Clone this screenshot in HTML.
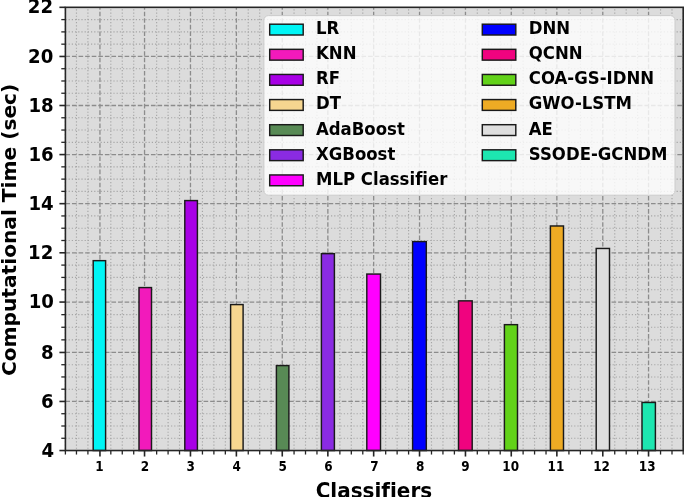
<!DOCTYPE html>
<html><head><meta charset="utf-8"><title>Computational Time by Classifier</title>
<style>
html,body{margin:0;padding:0;background:#fff;}
body{width:685px;height:497px;overflow:hidden;}
svg{display:block;filter:blur(0.35px);}
svg text{font-family:"DejaVu Sans","Liberation Sans",sans-serif;font-weight:bold;fill:#000;font-variant-ligatures:none;font-feature-settings:"liga" 0,"clig" 0;font-kerning:normal;}
</style></head>
<body>
<svg width="685" height="497" viewBox="0 0 685 497">
<rect width="685" height="497" fill="#fff"/>
<rect x="65.4" y="7.32" width="617.80" height="443.22" fill="#dcdcdc"/>
<g stroke="#a6a6a6" stroke-width="1.15" stroke-dasharray="1.2 2.0"><line x1="65.40" y1="450.54" x2="65.40" y2="7.32" stroke-dashoffset="1.5"/><line x1="76.46" y1="450.54" x2="76.46" y2="7.32" stroke-dashoffset="1.5"/><line x1="87.91" y1="450.54" x2="87.91" y2="7.32" stroke-dashoffset="1.5"/><line x1="110.82" y1="450.54" x2="110.82" y2="7.32" stroke-dashoffset="1.5"/><line x1="122.27" y1="450.54" x2="122.27" y2="7.32" stroke-dashoffset="1.5"/><line x1="133.72" y1="450.54" x2="133.72" y2="7.32" stroke-dashoffset="1.5"/><line x1="156.63" y1="450.54" x2="156.63" y2="7.32" stroke-dashoffset="1.5"/><line x1="168.08" y1="450.54" x2="168.08" y2="7.32" stroke-dashoffset="1.5"/><line x1="179.53" y1="450.54" x2="179.53" y2="7.32" stroke-dashoffset="1.5"/><line x1="202.44" y1="450.54" x2="202.44" y2="7.32" stroke-dashoffset="1.5"/><line x1="213.89" y1="450.54" x2="213.89" y2="7.32" stroke-dashoffset="1.5"/><line x1="225.34" y1="450.54" x2="225.34" y2="7.32" stroke-dashoffset="1.5"/><line x1="248.25" y1="450.54" x2="248.25" y2="7.32" stroke-dashoffset="1.5"/><line x1="259.70" y1="450.54" x2="259.70" y2="7.32" stroke-dashoffset="1.5"/><line x1="271.15" y1="450.54" x2="271.15" y2="7.32" stroke-dashoffset="1.5"/><line x1="294.06" y1="450.54" x2="294.06" y2="7.32" stroke-dashoffset="1.5"/><line x1="305.51" y1="450.54" x2="305.51" y2="7.32" stroke-dashoffset="1.5"/><line x1="316.96" y1="450.54" x2="316.96" y2="7.32" stroke-dashoffset="1.5"/><line x1="339.87" y1="450.54" x2="339.87" y2="7.32" stroke-dashoffset="1.5"/><line x1="351.32" y1="450.54" x2="351.32" y2="7.32" stroke-dashoffset="1.5"/><line x1="362.78" y1="450.54" x2="362.78" y2="7.32" stroke-dashoffset="1.5"/><line x1="385.68" y1="450.54" x2="385.68" y2="7.32" stroke-dashoffset="1.5"/><line x1="397.13" y1="450.54" x2="397.13" y2="7.32" stroke-dashoffset="1.5"/><line x1="408.59" y1="450.54" x2="408.59" y2="7.32" stroke-dashoffset="1.5"/><line x1="431.49" y1="450.54" x2="431.49" y2="7.32" stroke-dashoffset="1.5"/><line x1="442.94" y1="450.54" x2="442.94" y2="7.32" stroke-dashoffset="1.5"/><line x1="454.40" y1="450.54" x2="454.40" y2="7.32" stroke-dashoffset="1.5"/><line x1="477.30" y1="450.54" x2="477.30" y2="7.32" stroke-dashoffset="1.5"/><line x1="488.76" y1="450.54" x2="488.76" y2="7.32" stroke-dashoffset="1.5"/><line x1="500.21" y1="450.54" x2="500.21" y2="7.32" stroke-dashoffset="1.5"/><line x1="523.11" y1="450.54" x2="523.11" y2="7.32" stroke-dashoffset="1.5"/><line x1="534.57" y1="450.54" x2="534.57" y2="7.32" stroke-dashoffset="1.5"/><line x1="546.02" y1="450.54" x2="546.02" y2="7.32" stroke-dashoffset="1.5"/><line x1="568.92" y1="450.54" x2="568.92" y2="7.32" stroke-dashoffset="1.5"/><line x1="580.38" y1="450.54" x2="580.38" y2="7.32" stroke-dashoffset="1.5"/><line x1="591.83" y1="450.54" x2="591.83" y2="7.32" stroke-dashoffset="1.5"/><line x1="614.74" y1="450.54" x2="614.74" y2="7.32" stroke-dashoffset="1.5"/><line x1="626.19" y1="450.54" x2="626.19" y2="7.32" stroke-dashoffset="1.5"/><line x1="637.64" y1="450.54" x2="637.64" y2="7.32" stroke-dashoffset="1.5"/><line x1="660.55" y1="450.54" x2="660.55" y2="7.32" stroke-dashoffset="1.5"/><line x1="672.00" y1="450.54" x2="672.00" y2="7.32" stroke-dashoffset="1.5"/><line x1="683.20" y1="450.54" x2="683.20" y2="7.32" stroke-dashoffset="1.5"/><line x1="65.4" y1="438.27" x2="683.2" y2="438.27"/><line x1="65.4" y1="426.00" x2="683.2" y2="426.00"/><line x1="65.4" y1="413.72" x2="683.2" y2="413.72"/><line x1="65.4" y1="389.20" x2="683.2" y2="389.20"/><line x1="65.4" y1="376.95" x2="683.2" y2="376.95"/><line x1="65.4" y1="364.71" x2="683.2" y2="364.71"/><line x1="65.4" y1="339.86" x2="683.2" y2="339.86"/><line x1="65.4" y1="327.26" x2="683.2" y2="327.26"/><line x1="65.4" y1="314.66" x2="683.2" y2="314.66"/><line x1="65.4" y1="289.74" x2="683.2" y2="289.74"/><line x1="65.4" y1="277.42" x2="683.2" y2="277.42"/><line x1="65.4" y1="265.10" x2="683.2" y2="265.10"/><line x1="65.4" y1="240.50" x2="683.2" y2="240.50"/><line x1="65.4" y1="228.22" x2="683.2" y2="228.22"/><line x1="65.4" y1="215.94" x2="683.2" y2="215.94"/><line x1="65.4" y1="191.39" x2="683.2" y2="191.39"/><line x1="65.4" y1="179.12" x2="683.2" y2="179.12"/><line x1="65.4" y1="166.85" x2="683.2" y2="166.85"/><line x1="65.4" y1="142.31" x2="683.2" y2="142.31"/><line x1="65.4" y1="130.04" x2="683.2" y2="130.04"/><line x1="65.4" y1="117.77" x2="683.2" y2="117.77"/><line x1="65.4" y1="93.24" x2="683.2" y2="93.24"/><line x1="65.4" y1="80.98" x2="683.2" y2="80.98"/><line x1="65.4" y1="68.72" x2="683.2" y2="68.72"/><line x1="65.4" y1="44.17" x2="683.2" y2="44.17"/><line x1="65.4" y1="31.89" x2="683.2" y2="31.89"/><line x1="65.4" y1="19.60" x2="683.2" y2="19.60"/></g>
<g stroke="#8c8c8c" stroke-width="1.3" stroke-dasharray="4.6 1.98"><line x1="99.95" y1="450.54" x2="99.95" y2="7.32"/><line x1="144.54" y1="450.54" x2="144.54" y2="7.32"/><line x1="190.46" y1="450.54" x2="190.46" y2="7.32"/><line x1="236.38" y1="450.54" x2="236.38" y2="7.32"/><line x1="282.26" y1="450.54" x2="282.26" y2="7.32"/><line x1="327.86" y1="450.54" x2="327.86" y2="7.32"/><line x1="373.66" y1="450.54" x2="373.66" y2="7.32"/><line x1="419.54" y1="450.54" x2="419.54" y2="7.32"/><line x1="465.46" y1="450.54" x2="465.46" y2="7.32"/><line x1="511.26" y1="450.54" x2="511.26" y2="7.32"/><line x1="556.86" y1="450.54" x2="556.86" y2="7.32"/><line x1="602.78" y1="450.54" x2="602.78" y2="7.32"/><line x1="648.54" y1="450.54" x2="648.54" y2="7.32"/><line x1="65.4" y1="401.45" x2="683.2" y2="401.45"/><line x1="65.4" y1="352.46" x2="683.2" y2="352.46"/><line x1="65.4" y1="302.06" x2="683.2" y2="302.06"/><line x1="65.4" y1="252.78" x2="683.2" y2="252.78"/><line x1="65.4" y1="203.66" x2="683.2" y2="203.66"/><line x1="65.4" y1="154.58" x2="683.2" y2="154.58"/><line x1="65.4" y1="105.50" x2="683.2" y2="105.50"/><line x1="65.4" y1="56.46" x2="683.2" y2="56.46"/></g>
<g stroke="#1a1a1a" stroke-width="1.45"><rect x="93.2" y="260.66" width="12.40" height="189.88" fill="#00f5f5"/><rect x="139.0" y="287.58" width="12.50" height="162.96" fill="#f21abb"/><rect x="184.8" y="200.58" width="12.60" height="249.96" fill="#a800e6"/><rect x="230.6" y="304.58" width="12.50" height="145.96" fill="#f6d690"/><rect x="276.4" y="365.58" width="12.50" height="84.96" fill="#588a55"/><rect x="321.4" y="253.66" width="13.00" height="196.88" fill="#8a2be2"/><rect x="366.8" y="274.06" width="13.70" height="176.48" fill="#ff00ff"/><rect x="412.6" y="241.58" width="13.70" height="208.96" fill="#0000ff"/><rect x="458.5" y="300.86" width="13.70" height="149.68" fill="#f0037f"/><rect x="504.4" y="324.66" width="13.10" height="125.88" fill="#62d219"/><rect x="550.4" y="225.98" width="13.10" height="224.56" fill="#eeab24"/><rect x="596.2" y="248.46" width="13.30" height="202.08" fill="#dedede"/><rect x="642.0" y="402.46" width="13.40" height="48.08" fill="#1de6b0"/></g>
<rect x="65.4" y="7.32" width="617.80" height="443.22" fill="none" stroke="#262626" stroke-width="1.6"/>
<g stroke="#262626" stroke-width="1.6"><line x1="59.40" y1="7.32" x2="65.4" y2="7.32"/><line x1="59.40" y1="56.46" x2="65.4" y2="56.46"/><line x1="59.40" y1="105.50" x2="65.4" y2="105.50"/><line x1="59.40" y1="154.58" x2="65.4" y2="154.58"/><line x1="59.40" y1="203.66" x2="65.4" y2="203.66"/><line x1="59.40" y1="252.78" x2="65.4" y2="252.78"/><line x1="59.40" y1="302.06" x2="65.4" y2="302.06"/><line x1="59.40" y1="352.46" x2="65.4" y2="352.46"/><line x1="59.40" y1="401.45" x2="65.4" y2="401.45"/><line x1="59.40" y1="450.54" x2="65.4" y2="450.54"/><line x1="99.95" y1="450.54" x2="99.95" y2="456.54"/><line x1="144.54" y1="450.54" x2="144.54" y2="456.54"/><line x1="190.46" y1="450.54" x2="190.46" y2="456.54"/><line x1="236.38" y1="450.54" x2="236.38" y2="456.54"/><line x1="282.26" y1="450.54" x2="282.26" y2="456.54"/><line x1="327.86" y1="450.54" x2="327.86" y2="456.54"/><line x1="373.66" y1="450.54" x2="373.66" y2="456.54"/><line x1="419.54" y1="450.54" x2="419.54" y2="456.54"/><line x1="465.46" y1="450.54" x2="465.46" y2="456.54"/><line x1="511.26" y1="450.54" x2="511.26" y2="456.54"/><line x1="556.86" y1="450.54" x2="556.86" y2="456.54"/><line x1="602.78" y1="450.54" x2="602.78" y2="456.54"/><line x1="648.54" y1="450.54" x2="648.54" y2="456.54"/></g>
<g stroke="#262626" stroke-width="1.3"><line x1="61.30" y1="438.27" x2="65.4" y2="438.27"/><line x1="61.30" y1="426.00" x2="65.4" y2="426.00"/><line x1="61.30" y1="413.72" x2="65.4" y2="413.72"/><line x1="61.30" y1="389.20" x2="65.4" y2="389.20"/><line x1="61.30" y1="376.95" x2="65.4" y2="376.95"/><line x1="61.30" y1="364.71" x2="65.4" y2="364.71"/><line x1="61.30" y1="339.86" x2="65.4" y2="339.86"/><line x1="61.30" y1="327.26" x2="65.4" y2="327.26"/><line x1="61.30" y1="314.66" x2="65.4" y2="314.66"/><line x1="61.30" y1="289.74" x2="65.4" y2="289.74"/><line x1="61.30" y1="277.42" x2="65.4" y2="277.42"/><line x1="61.30" y1="265.10" x2="65.4" y2="265.10"/><line x1="61.30" y1="240.50" x2="65.4" y2="240.50"/><line x1="61.30" y1="228.22" x2="65.4" y2="228.22"/><line x1="61.30" y1="215.94" x2="65.4" y2="215.94"/><line x1="61.30" y1="191.39" x2="65.4" y2="191.39"/><line x1="61.30" y1="179.12" x2="65.4" y2="179.12"/><line x1="61.30" y1="166.85" x2="65.4" y2="166.85"/><line x1="61.30" y1="142.31" x2="65.4" y2="142.31"/><line x1="61.30" y1="130.04" x2="65.4" y2="130.04"/><line x1="61.30" y1="117.77" x2="65.4" y2="117.77"/><line x1="61.30" y1="93.24" x2="65.4" y2="93.24"/><line x1="61.30" y1="80.98" x2="65.4" y2="80.98"/><line x1="61.30" y1="68.72" x2="65.4" y2="68.72"/><line x1="61.30" y1="44.17" x2="65.4" y2="44.17"/><line x1="61.30" y1="31.89" x2="65.4" y2="31.89"/><line x1="61.30" y1="19.60" x2="65.4" y2="19.60"/><line x1="65.40" y1="450.54" x2="65.40" y2="454.54"/><line x1="76.46" y1="450.54" x2="76.46" y2="454.54"/><line x1="87.91" y1="450.54" x2="87.91" y2="454.54"/><line x1="110.82" y1="450.54" x2="110.82" y2="454.54"/><line x1="122.27" y1="450.54" x2="122.27" y2="454.54"/><line x1="133.72" y1="450.54" x2="133.72" y2="454.54"/><line x1="156.63" y1="450.54" x2="156.63" y2="454.54"/><line x1="168.08" y1="450.54" x2="168.08" y2="454.54"/><line x1="179.53" y1="450.54" x2="179.53" y2="454.54"/><line x1="202.44" y1="450.54" x2="202.44" y2="454.54"/><line x1="213.89" y1="450.54" x2="213.89" y2="454.54"/><line x1="225.34" y1="450.54" x2="225.34" y2="454.54"/><line x1="248.25" y1="450.54" x2="248.25" y2="454.54"/><line x1="259.70" y1="450.54" x2="259.70" y2="454.54"/><line x1="271.15" y1="450.54" x2="271.15" y2="454.54"/><line x1="294.06" y1="450.54" x2="294.06" y2="454.54"/><line x1="305.51" y1="450.54" x2="305.51" y2="454.54"/><line x1="316.96" y1="450.54" x2="316.96" y2="454.54"/><line x1="339.87" y1="450.54" x2="339.87" y2="454.54"/><line x1="351.32" y1="450.54" x2="351.32" y2="454.54"/><line x1="362.78" y1="450.54" x2="362.78" y2="454.54"/><line x1="385.68" y1="450.54" x2="385.68" y2="454.54"/><line x1="397.13" y1="450.54" x2="397.13" y2="454.54"/><line x1="408.59" y1="450.54" x2="408.59" y2="454.54"/><line x1="431.49" y1="450.54" x2="431.49" y2="454.54"/><line x1="442.94" y1="450.54" x2="442.94" y2="454.54"/><line x1="454.40" y1="450.54" x2="454.40" y2="454.54"/><line x1="477.30" y1="450.54" x2="477.30" y2="454.54"/><line x1="488.76" y1="450.54" x2="488.76" y2="454.54"/><line x1="500.21" y1="450.54" x2="500.21" y2="454.54"/><line x1="523.11" y1="450.54" x2="523.11" y2="454.54"/><line x1="534.57" y1="450.54" x2="534.57" y2="454.54"/><line x1="546.02" y1="450.54" x2="546.02" y2="454.54"/><line x1="568.92" y1="450.54" x2="568.92" y2="454.54"/><line x1="580.38" y1="450.54" x2="580.38" y2="454.54"/><line x1="591.83" y1="450.54" x2="591.83" y2="454.54"/><line x1="614.74" y1="450.54" x2="614.74" y2="454.54"/><line x1="626.19" y1="450.54" x2="626.19" y2="454.54"/><line x1="637.64" y1="450.54" x2="637.64" y2="454.54"/><line x1="660.55" y1="450.54" x2="660.55" y2="454.54"/><line x1="672.00" y1="450.54" x2="672.00" y2="454.54"/><line x1="683.20" y1="450.54" x2="683.20" y2="454.54"/></g>
<g font-size="18.7px"><text transform="translate(53.10,13.32) scale(0.97,1.06)" text-anchor="end">22</text><text transform="translate(53.30,62.96) scale(0.97,1.06)" text-anchor="end">20</text><text transform="translate(53.70,112.00) scale(0.97,1.06)" text-anchor="end">18</text><text transform="translate(53.70,161.08) scale(0.97,1.06)" text-anchor="end">16</text><text transform="translate(53.70,210.16) scale(0.97,1.06)" text-anchor="end">14</text><text transform="translate(53.30,259.28) scale(0.97,1.06)" text-anchor="end">12</text><text transform="translate(53.90,308.26) scale(0.97,1.06)" text-anchor="end">10</text><text transform="translate(53.70,358.96) scale(0.97,1.06)" text-anchor="end">8</text><text transform="translate(53.70,407.95) scale(0.97,1.06)" text-anchor="end">6</text><text transform="translate(54.00,456.74) scale(0.97,1.06)" text-anchor="end">4</text></g>
<g font-size="12.3px"><text transform="translate(99.45,471.0) scale(0.98,1.1)" text-anchor="middle">1</text><text transform="translate(145.01,471.0) scale(0.98,1.1)" text-anchor="middle">2</text><text transform="translate(190.81,471.0) scale(0.98,1.1)" text-anchor="middle">3</text><text transform="translate(236.62,471.0) scale(0.98,1.1)" text-anchor="middle">4</text><text transform="translate(282.59,471.0) scale(0.98,1.1)" text-anchor="middle">5</text><text transform="translate(328.52,471.0) scale(0.98,1.1)" text-anchor="middle">6</text><text transform="translate(374.39,471.0) scale(0.98,1.1)" text-anchor="middle">7</text><text transform="translate(420.19,471.0) scale(0.98,1.1)" text-anchor="middle">8</text><text transform="translate(465.50,471.0) scale(0.98,1.1)" text-anchor="middle">9</text><text transform="translate(510.72,471.0) scale(0.98,1.1)" text-anchor="middle">10</text><text transform="translate(555.92,471.0) scale(0.98,1.1)" text-anchor="middle">11</text><text transform="translate(601.61,471.0) scale(0.98,1.1)" text-anchor="middle">12</text><text transform="translate(647.16,471.0) scale(0.98,1.1)" text-anchor="middle">13</text></g>
<text transform="translate(373.9,498.2) scale(1,1.08)" text-anchor="middle" font-size="20px">Classifiers</text>
<text transform="translate(15.7,229.9) rotate(-90) scale(1.008,1.0)" text-anchor="middle" font-size="20px">Computational Time (sec)</text>
<rect x="263.9" y="15.6" width="411.10" height="179.60" rx="4.5" ry="4.5" fill="#fff" fill-opacity="0.8" stroke="#cccccc" stroke-width="1"/>
<g font-size="16.7px"><rect x="269.7" y="24.20" width="33.5" height="10.8" fill="#00f5f5" stroke="#1a1a1a" stroke-width="1.45"/><text transform="translate(316.0,34.00) scale(0.99,1.1)">LR</text><rect x="269.7" y="49.33" width="33.5" height="10.8" fill="#f21abb" stroke="#1a1a1a" stroke-width="1.45"/><text transform="translate(316.0,59.12) scale(0.99,1.1)">KNN</text><rect x="269.7" y="74.45" width="33.5" height="10.8" fill="#a800e6" stroke="#1a1a1a" stroke-width="1.45"/><text transform="translate(316.0,84.25) scale(0.99,1.1)">RF</text><rect x="269.7" y="99.57" width="33.5" height="10.8" fill="#f6d690" stroke="#1a1a1a" stroke-width="1.45"/><text transform="translate(316.0,109.38) scale(0.99,1.1)">DT</text><rect x="269.7" y="124.70" width="33.5" height="10.8" fill="#588a55" stroke="#1a1a1a" stroke-width="1.45"/><text transform="translate(316.0,134.50) scale(0.99,1.1)">AdaBoost</text><rect x="269.7" y="149.82" width="33.5" height="10.8" fill="#8a2be2" stroke="#1a1a1a" stroke-width="1.45"/><text transform="translate(316.0,159.62) scale(0.99,1.1)">XGBoost</text><rect x="269.7" y="174.95" width="33.5" height="10.8" fill="#ff00ff" stroke="#1a1a1a" stroke-width="1.45"/><text transform="translate(316.0,184.75) scale(0.99,1.1)">MLP Classifier</text><rect x="482.3" y="24.20" width="33.5" height="10.8" fill="#0000ff" stroke="#1a1a1a" stroke-width="1.45"/><text transform="translate(528.8,34.00) scale(0.99,1.1)">DNN</text><rect x="482.3" y="49.33" width="33.5" height="10.8" fill="#f0037f" stroke="#1a1a1a" stroke-width="1.45"/><text transform="translate(528.8,59.12) scale(0.99,1.1)">QCNN</text><rect x="482.3" y="74.45" width="33.5" height="10.8" fill="#62d219" stroke="#1a1a1a" stroke-width="1.45"/><text transform="translate(528.8,84.25) scale(0.99,1.1)">COA-GS-IDNN</text><rect x="482.3" y="99.57" width="33.5" height="10.8" fill="#eeab24" stroke="#1a1a1a" stroke-width="1.45"/><text transform="translate(528.8,109.38) scale(0.99,1.1)">GWO-LSTM</text><rect x="482.3" y="124.70" width="33.5" height="10.8" fill="#dedede" stroke="#1a1a1a" stroke-width="1.45"/><text transform="translate(528.8,134.50) scale(0.99,1.1)">AE</text><rect x="482.3" y="149.82" width="33.5" height="10.8" fill="#1de6b0" stroke="#1a1a1a" stroke-width="1.45"/><text transform="translate(528.8,159.62) scale(0.99,1.1)">SSODE-GCNDM</text></g>
</svg>
</body></html>
